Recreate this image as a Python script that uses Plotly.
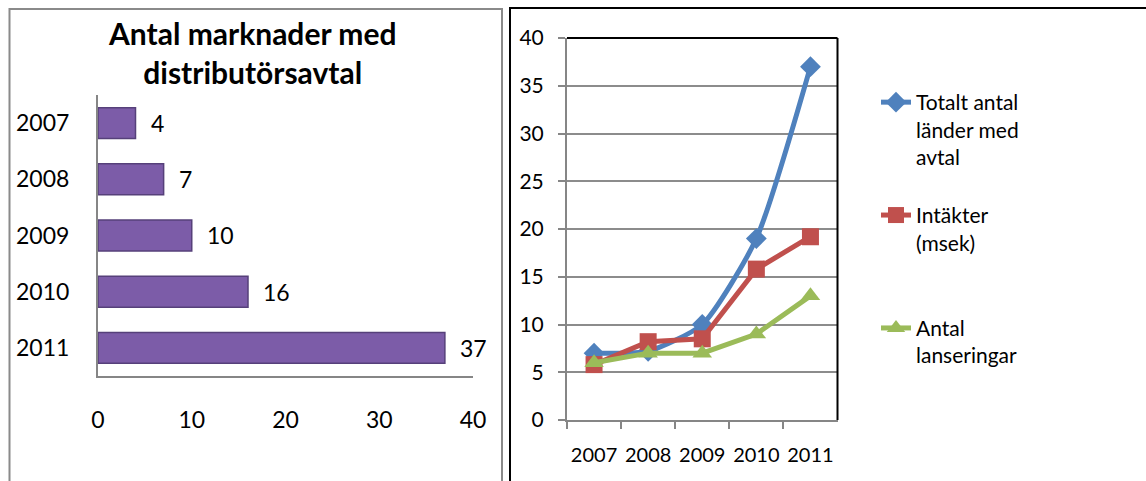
import plotly.graph_objects as go

# ---- data ----
bar_years = [2007, 2008, 2009, 2010, 2011]
bar_values = [4, 7, 10, 16, 37]
bar_title_lines = ["Antal marknader med", "distributörsavtal"]

line_years = ["2007", "2008", "2009", "2010", "2011"]
totalt = [7, 7.2, 10, 19, 37]
intakter = [5.8, 8.2, 8.5, 15.8, 19.2]
lanseringar = [6, 7, 7, 9, 13]
series_names = ["Totalt antal<br>länder med<br>avtal", "Intäkter<br>(msek)<br> ", "Antal<br>lanseringar"]

W, H = 1146, 481
FONT = "Lato, 'Open Sans', sans-serif"

fig = go.Figure()

# left: horizontal bars
fig.add_trace(go.Bar(
    x=bar_values, y=bar_years, orientation="h",
    marker=dict(color="#7c5ca8", line=dict(color="#56407a", width=1.5)),
    width=0.55, showlegend=False, xaxis="x", yaxis="y",
))
for v, c in zip(bar_values, bar_years):
    fig.add_annotation(x=v, y=c, xref="x", yref="y", text=str(v), showarrow=False,
                       xanchor="left", xshift=13, font=dict(family=FONT, size=23, color="#000"))

# right: lines
colors = ["#4f81bd", "#c0504d", "#9bbb59"]
symbols = ["diamond", "square", "triangle-up"]
sizes = [16, 17, 17]
shapes_line = ["spline", "linear", "linear"]
for i, ys in enumerate([totalt, intakter, lanseringar]):
    fig.add_trace(go.Scatter(
        x=line_years, y=ys, mode="lines+markers", name=series_names[i],
        legendgroup=f"g{i}",
        line=dict(color=colors[i], width=5, shape=shapes_line[i], smoothing=0.6),
        marker=dict(symbol=symbols[i], size=sizes[i], color=colors[i]),
        xaxis="x2", yaxis="y2",
    ))

fig.add_annotation(
    text="<b>" + bar_title_lines[0] + "</b><br><b>" + bar_title_lines[1] + "</b>",
    x=252/W, y=(H-52)/H, xref="paper", yref="paper", showarrow=False,
    xanchor="center", yanchor="middle", font=dict(family=FONT, size=30, color="#000"))

fig.update_layout(
    template="none",
    width=W, height=H, margin=dict(l=0, r=0, t=0, b=0, pad=0), autosize=False,
    paper_bgcolor="white", plot_bgcolor="white",
    font=dict(family=FONT, color="#000"),
    xaxis=dict(domain=[98/W, 473/W], range=[0, 40], dtick=10, showgrid=False, zeroline=False,
               showline=True, linecolor="#868686", linewidth=2, ticks="", automargin=False,
               tickfont=dict(size=23), ticklabelstandoff=22, anchor="y"),
    yaxis=dict(domain=[(H-376)/H, (H-95)/H], range=[2011.5, 2006.5], tickmode="array",
               tickvals=bar_years, ticktext=[str(y) for y in bar_years], automargin=False,
               showgrid=False, zeroline=False, showline=True, linecolor="#868686", linewidth=2,
               ticks="", tickfont=dict(size=23), ticklabelstandoff=22, anchor="x"),
    xaxis2=dict(domain=[567/W, 837.5/W], type="category", showgrid=False, zeroline=False,
                showline=True, linecolor="#868686", linewidth=2, ticks="outside", tickson="boundaries",
                ticklen=7, tickcolor="#868686", tickwidth=2, tickfont=dict(size=20), tickangle=0,
                ticklabelstandoff=16, anchor="y2", range=[-0.5, 4.5], automargin=False),
    yaxis2=dict(domain=[(H-420)/H, (H-38)/H], range=[0, 40], dtick=5, showgrid=True,
                gridcolor="#8c8c8c", gridwidth=1.5, zeroline=False, showline=True,
                linecolor="#868686", linewidth=2, ticks="outside", ticklen=7, tickcolor="#868686",
                tickwidth=2, tickfont=dict(size=21), ticklabelstandoff=10, anchor="x2",
                automargin=False),
    showlegend=True,
    legend=dict(x=876/W, xanchor="left", y=(H-82)/H, yanchor="top", valign="top",
                font=dict(family=FONT, size=21, color="#000"), tracegroupgap=28,
                bgcolor="rgba(0,0,0,0)", borderwidth=0),
    shapes=[
        dict(type="rect", xref="paper", yref="paper", x0=9.5/W, x1=502/W, y0=-0.05, y1=(H-9)/H,
             line=dict(color="#8a8a8a", width=2)),
        dict(type="rect", xref="paper", yref="paper", x0=510/W, x1=1.05, y0=-0.05, y1=(H-8)/H,
             line=dict(color="#000", width=2)),
        dict(type="line", xref="x2 domain", yref="y2 domain", x0=0, x1=1, y0=1, y1=1,
             line=dict(color="#000", width=2)),
        dict(type="line", xref="x2 domain", yref="y2 domain", x0=1, x1=1, y0=0, y1=1,
             line=dict(color="#000", width=2)),
    ],
)

fig.write_html("out.html", config={"displayModeBar": False},
               post_script="document.body.style.margin='0';document.body.style.overflow='hidden';")
